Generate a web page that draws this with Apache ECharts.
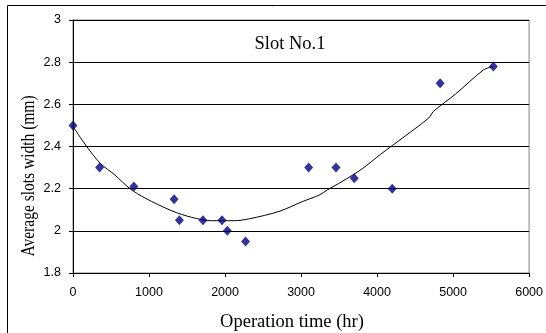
<!DOCTYPE html>
<html>
<head>
<meta charset="utf-8">
<script src="https://cdn.jsdelivr.net/npm/echarts@6/dist/echarts.min.js"></script>
<style>html,body{margin:0;padding:0;background:#fff;}#c{width:546px;height:333px;}</style>
</head>
<body>
<div id="c"></div>
<script>
// Measured points
const timeHr = [0, 350, 800, 1330, 1400, 1710, 1960, 2030, 2270, 3100, 3460, 3700, 4200, 4830, 5530];
const slotWidth = [2.5, 2.3, 2.21, 2.15, 2.05, 2.05, 2.05, 2.0, 1.95, 2.3, 2.3, 2.25, 2.2, 2.7, 2.78];
// Trend curve
const trendX = [0, 180, 360, 550, 750, 950, 1300, 1560, 1820, 2120, 2320, 2710, 3020, 3240, 3350, 3540, 3800, 4050, 4680, 4740, 5030, 5400, 5530];
const trendY = [2.495, 2.40, 2.32, 2.265, 2.20, 2.155, 2.095, 2.064, 2.048, 2.048, 2.057, 2.092, 2.139, 2.17, 2.195, 2.234, 2.293, 2.364, 2.535, 2.566, 2.648, 2.763, 2.78];
const xTicks = [0, 1000, 2000, 3000, 4000, 5000, 6000];
const yTicks = [1.8, 2, 2.2, 2.4, 2.6, 2.8, 3];

const chart = echarts.init(document.getElementById('c'), null, {renderer: 'canvas'});
const sans = 'Liberation Sans';
chart.setOption({
  animation: false,
  backgroundColor: '#fff',
  grid: {left: 73, right: 15, top: 20, bottom: 60, show: true, borderColor: '#808080', borderWidth: 1, backgroundColor: '#fff'},
  xAxis: {
    type: 'value', min: xTicks[0], max: xTicks[xTicks.length - 1], interval: 1000,
    axisLine: {show: true, lineStyle: {color: '#000', width: 1}},
    axisTick: {show: true, length: 4, lineStyle: {color: '#000'}},
    axisLabel: {color: '#000', fontFamily: sans, fontSize: 12.5, margin: 13, formatter: v => String(v)},
    splitLine: {show: false}
  },
  yAxis: {
    type: 'value', min: yTicks[0], max: yTicks[yTicks.length - 1], interval: 0.2,
    axisLine: {show: true, lineStyle: {color: '#000', width: 1}},
    axisTick: {show: true, length: 4, lineStyle: {color: '#000'}},
    axisLabel: {color: '#000', fontFamily: sans, fontSize: 12.5, margin: 12,
      formatter: v => String(Math.round(v * 10) / 10)},
    splitLine: {show: true, lineStyle: {color: '#000', width: 1}}
  },
  graphic: [
    {type: 'rect', shape: {x: 7.5, y: 5.5, width: 600, height: 400}, style: {fill: null, stroke: '#000', lineWidth: 1}, z: 100, silent: true},
    {type: 'text', x: 290, y: 44, style: {text: 'Slot No.1', font: '18.5px "Liberation Serif"', fill: '#000', textAlign: 'center', textVerticalAlign: 'middle'}, z: 100},
    {type: 'text', x: 292, y: 322, style: {text: 'Operation time (hr)', font: '18.5px "Liberation Serif"', fill: '#000', textAlign: 'center', textVerticalAlign: 'middle'}, z: 100},
    {type: 'text', x: 29, y: 176, rotation: Math.PI / 2, scaleY: 1.15, style: {text: 'Average slots width (mm)', font: '15.5px "Liberation Serif"', fill: '#000', textAlign: 'center', textVerticalAlign: 'middle'}, z: 100}
  ],
  series: [
    {
      type: 'line', data: trendX.map((x, i) => [x, trendY[i]]), showSymbol: false, smooth: 0.3,
      lineStyle: {color: '#000', width: 1}, z: 2, silent: true
    },
    {
      type: 'scatter', data: timeHr.map((x, i) => [x, slotWidth[i]]), symbol: 'diamond', symbolSize: [9, 10],
      itemStyle: {color: '#000080'}, z: 3
    }
  ]
});
</script>
</body>
</html>
